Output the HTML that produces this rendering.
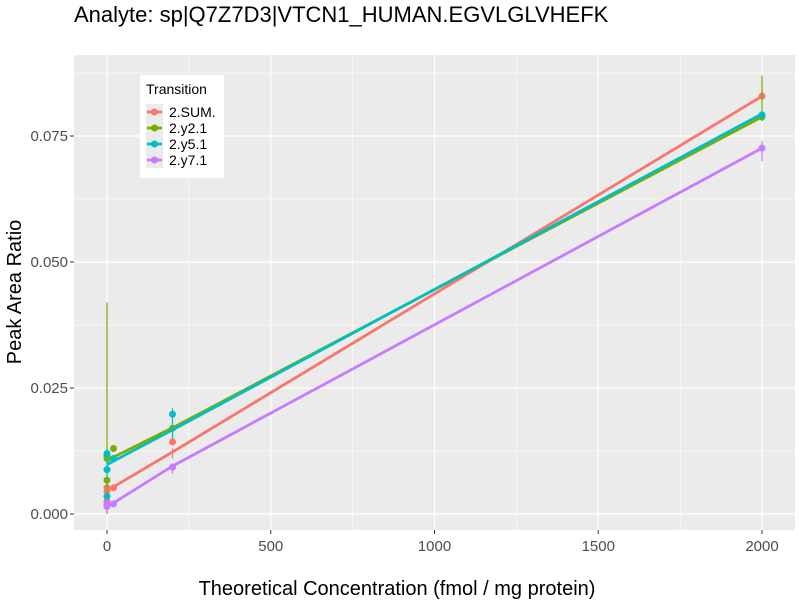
<!DOCTYPE html>
<html><head><meta charset="utf-8"><style>
body{margin:0;background:#fff;}
svg text{font-family:"Liberation Sans",sans-serif;}
</style></head><body>
<svg id="chart" width="800" height="600" xmlns="http://www.w3.org/2000/svg">
<text x="74" y="22" font-size="22" fill="#000">Analyte: sp|Q7Z7D3|VTCN1_HUMAN.EGVLGLVHEFK</text>
<rect x="74" y="55" width="721" height="475" fill="#ebebeb"/>
<g id="grid"></g>
<g id="series"></g>
<g id="axes"></g>
<text x="397" y="595" font-size="20" text-anchor="middle" fill="#000">Theoretical Concentration (fmol / mg protein)</text>
<text transform="translate(21,292) rotate(-90)" font-size="20" text-anchor="middle" fill="#000">Peak Area Ratio</text>
<g>
<rect x="140" y="75" width="84" height="103" fill="#fff"/>
<text x="146" y="94" font-size="14" fill="#000">Transition</text>
<g id="legend"></g>
</g>
</svg>
<script>
const names=["2.SUM.","2.y2.1","2.y5.1","2.y7.1"];
const colors=["#f8766d","#7cae00","#00bfc4","#c77cff"];
const xTicks=[0,500,1000,1500,2000];
const yTicks=[0,0.025,0.05,0.075];
const yTickLabels=["0.000","0.025","0.050","0.075"];
const lineX=[0,20,200,2000];
const lineSum=[0.0048,0.0054,0.0123,0.0829];
const lineY2=[0.0105,0.0113,0.0171,0.0788];
const lineY5=[0.0098,0.0105,0.0167,0.0794];
const lineY7=[0.0016,0.0022,0.0095,0.0726];
const ptX=[0,0,0,20,200,2000];
const ptSum=[0.0025,0.0045,0.0052,0.0052,0.0143,0.0829];
const ptY2=[0.0067,0.0110,0.0115,0.0130,0.0170,0.0788];
const ptY5=[0.0035,0.0088,0.0120,0.0110,0.0198,0.0792];
const ptY7=[0.0015,0.0018,0.0020,0.0020,0.0093,0.0726];
const errLo=[[0.0,0.011,0.082],[0.0,0.015,0.078],[0.007,0.015,0.078],[0.0,0.008,0.070]];
const errHi=[[0.006,0.013,0.085],[0.042,0.018,0.087],[0.013,0.021,0.080],[0.003,0.010,0.074]];
const errX=[0,200,2000];
const lines=[lineSum,lineY2,lineY5,lineY7];
const pts=[ptSum,ptY2,ptY5,ptY7];
const X=v=>107+v*(762-107)/2000;
const Y=v=>514-v*(514-136)/0.075;
const NS="http://www.w3.org/2000/svg";
function mk(t,a,p){const e=document.createElementNS(NS,t);for(const k in a)e.setAttribute(k,a[k]);p.appendChild(e);return e;}
const grid=document.getElementById('grid'),axes=document.getElementById('axes'),ser=document.getElementById('series'),leg=document.getElementById('legend');
for(let i=0;i<xTicks.length-1;i++){const m=(xTicks[i]+xTicks[i+1])/2;const g=mk('line',{x1:X(m),x2:X(m),y1:55,y2:530,stroke:'#fff','stroke-width':0.6},grid);}
for(let i=0;i<yTicks.length;i++){const m=yTicks[i]+0.0125;const g=mk('line',{x1:74,x2:795,y1:Y(m),y2:Y(m),stroke:'#fff','stroke-width':0.6},grid);}
xTicks.forEach(v=>{const g=mk('line',{x1:X(v),x2:X(v),y1:55,y2:530,stroke:'#fff','stroke-width':1.2},grid);
const t=mk('line',{x1:X(v),x2:X(v),y1:530,y2:534,stroke:'#333'},axes);
const l=mk('text',{x:X(v),y:551,'font-size':15,'text-anchor':'middle',fill:'#4d4d4d'},axes);l.textContent=v;});
yTicks.forEach((v,i)=>{const g=mk('line',{x1:74,x2:795,y1:Y(v),y2:Y(v),stroke:'#fff','stroke-width':1.2},grid);
const t=mk('line',{x1:70,x2:74,y1:Y(v),y2:Y(v),stroke:'#333'},axes);
const l=mk('text',{x:68,y:Y(v)+5,'font-size':15,'text-anchor':'end',fill:'#4d4d4d'},axes);l.textContent=yTickLabels[i];});
names.forEach((n,s)=>{
 const g=mk('g',{},ser);
 errX.forEach((x,i)=>{const e=mk('line',{x1:X(x),x2:X(x),y1:Y(errLo[s][i]),y2:Y(errHi[s][i]),stroke:colors[s],'stroke-width':1.2},g);});
 const p=mk('polyline',{points:lineX.map((x,i)=>X(x)+','+Y(lines[s][i])).join(' '),fill:'none',stroke:colors[s],'stroke-width':2.8},g);
 
 ptX.forEach((x,i)=>{const c=mk('circle',{cx:X(x),cy:Y(pts[s][i]),r:3.5,fill:colors[s]},g);});
 const y=112+s*16;
 mk('rect',{x:146,y:y-8,width:17,height:16,fill:'#ebebeb'},leg);
 const ll=mk('line',{x1:147,x2:162,y1:y,y2:y,stroke:colors[s],'stroke-width':2.8},leg);
 mk('circle',{cx:154.5,cy:y,r:3.5,fill:colors[s]},leg);
 const t=mk('text',{x:169,y:y+5,'font-size':14,fill:'#000'},leg);t.textContent=n;
});
</script>
</body></html>
